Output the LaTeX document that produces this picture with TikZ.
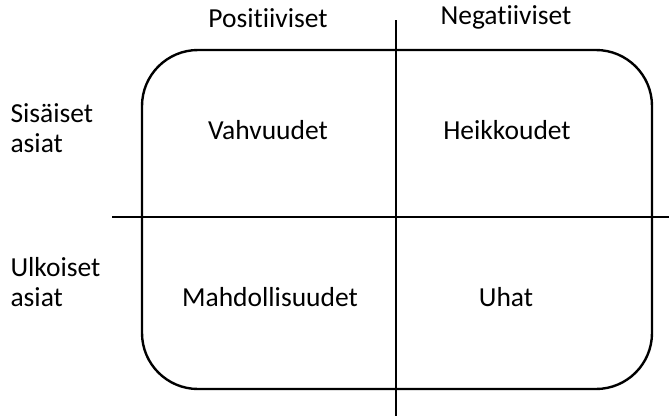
\documentclass[tikz,border=0pt]{standalone}
\usepackage{fontspec}
\setmainfont[Ligatures=NoCommon]{Carlito}
\usetikzlibrary{positioning}

\begin{document}
\begin{tikzpicture}[x=1pt,y=-1pt,line width=2.4pt,
       every node/.style={font=\fontsize{27.5}{30}\selectfont},
       label/.style={align=left,anchor=west}]
       \useasboundingbox (0,0) rectangle (669,416);

       \draw[rounded corners=56pt] (142,50) rectangle (652,389);
       \coordinate (top) at (396,20);
       \coordinate (bot) at (396,416);
       \coordinate (lft) at (112,217);
       \coordinate (rgt) at (669,217);
       \draw (top) -- (bot);
       \draw (lft) -- (rgt);

       \node (pos) at (268,18) {Positiiviset};
       \node (neg) at (506,17) {Negatiiviset};
       \node[label] (sis) at (6,128) {Sisäiset\\asiat};
       \node[label] (ulk) at (6,282) {Ulkoiset\\asiat};

       \node (vah) at (268,130) {Vahvuudet};
       \node (hei) at (507,130) {Heikkoudet};
       \node (mah) at (270,297) {Mahdollisuudet};
       \node (uha) at (506,297) {Uhat};
     \end{tikzpicture}
\end{document}
